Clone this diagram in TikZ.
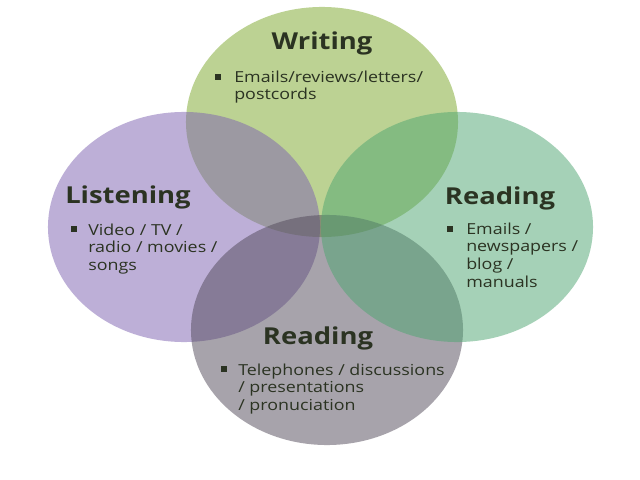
\documentclass[tikz,border=0pt]{standalone}
\usepackage{fontspec}
\setmainfont{Open Sans}
\usepackage{graphicx}
\usetikzlibrary{shapes,positioning}
\definecolor{writegreen}{HTML}{7BA729}
\definecolor{listenpurple}{HTML}{7D61B1}
\definecolor{speakgray}{HTML}{514959}
\definecolor{readteal}{HTML}{4DA571}
\definecolor{ink}{HTML}{2B3322}
\newcommand{\squash}[1]{\scalebox{1}[0.85]{#1}}
\newcommand{\itemlines}[1]{\squash{\begin{tabular}[t]{@{}l@{}}#1\end{tabular}}}

\begin{document}
\begin{tikzpicture}[x=0.025cm,y=-0.025cm]
  \tikzstyle{blob}=[ellipse,minimum width=6.8cm,minimum height=5.75cm,
                    inner sep=0pt,fill opacity=0.5]
  \tikzstyle{title}=[anchor=base,inner sep=0pt,text=ink,
                     font=\fontsize{19.5}{20}\selectfont\bfseries]
  \tikzstyle{body}=[anchor=base west,inner sep=0pt,text=ink,
                    font=\fontsize{12.7}{15}\selectfont]
  \tikzstyle{dot}=[rectangle,fill=ink,inner sep=0pt,minimum size=3.6pt]

  \useasboundingbox (0,0) rectangle (640,480);
  \fill[white] (0,0) rectangle (640,480);

  \node [blob,fill=writegreen]   (writing)   at (322,122) {};
  \node [blob,fill=listenpurple] (listening) at (184,227) {};
  \node [blob,fill=speakgray]    (speaking)  at (327,330) {};
  \node [blob,fill=readteal]     (reading)   at (457,227) {};

  \node [title] (wtitle) at (322,50)  {\squash{Writing}};
  \node [dot]   (wdot)   at (218,77)  {};
  \node [body]  (wtext)  at (234,82)  {\itemlines{Emails/reviews/letters/\\postcords}};

  \node [title] (ltitle) at (128,203) {\squash{Listening}};
  \node [dot]   (ldot)   at (74,229)  {};
  \node [body]  (ltext)  at (88,235)  {\itemlines{Video / TV /\\radio / movies /\\songs}};

  \node [title] (rtitle) at (500,204) {\squash{Reading}};
  \node [dot]   (rdot)   at (450,229) {};
  \node [body]  (rtext)  at (466,234) {\itemlines{Emails /\\newspapers /\\blog /\\manuals}};

  \node [title] (stitle) at (318,344) {\squash{Reading}};
  \node [dot]   (sdot)   at (224,369) {};
  \node [body]  (stext)  at (238,375) {\itemlines{Telephones / discussions\\/ presentations\\/ pronuciation}};
\end{tikzpicture}
\end{document}
